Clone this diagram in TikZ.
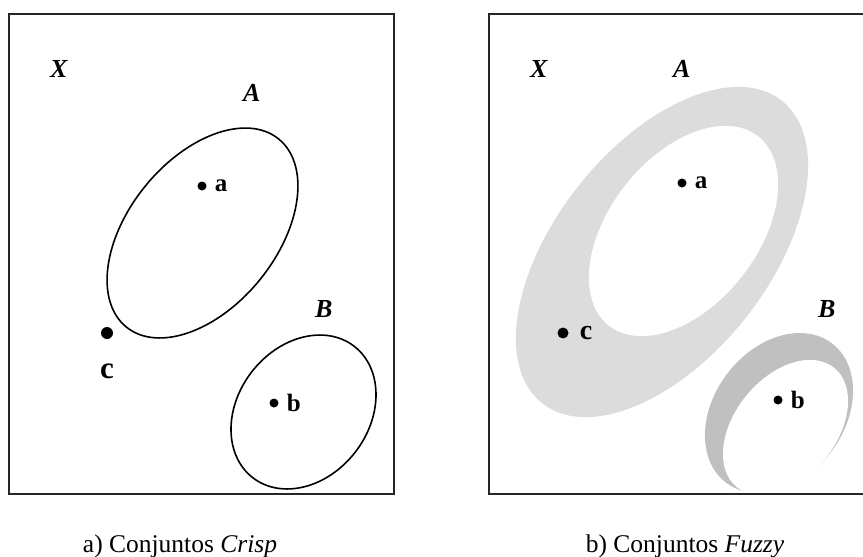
\documentclass[tikz,border=0pt]{standalone}
\usepackage{fontspec}
\setmainfont{Liberation Serif}
\usetikzlibrary{shapes.geometric,positioning}
\definecolor{fuzzylight}{RGB}{220,220,220}
\definecolor{fuzzydark}{RGB}{192,192,192}

\begin{document}
\begin{tikzpicture}[x=1pt,y=-1pt,
    setline/.style={ellipse, draw, line width=1.6pt, inner sep=0pt},
    setfill/.style={ellipse, inner sep=0pt},
    elem/.style={circle, fill, inner sep=0pt, minimum size=9pt},
    bigelem/.style={elem, minimum size=12pt},
    elemlbl/.style={font=\fontsize{25}{29}\selectfont\bfseries, inner sep=0pt},
    biglbl/.style={font=\fontsize{31}{35}\selectfont\bfseries, inner sep=0pt},
    setlbl/.style={font=\fontsize{26}{30}\selectfont\bfseries\itshape, inner sep=0pt, anchor=base west},
    caption/.style={font=\fontsize{25.5}{30}\selectfont, anchor=base}]
\clip (0,0) rectangle (863,557);

% a) crisp sets
\draw[line width=1.3pt, black!85] (9,14) rectangle (394,494);
\node[setline, rotate=51, minimum width=242pt, minimum height=148pt] (crispA) at (202.5,233) {};
\node[setline, rotate=52.4, minimum width=166pt, minimum height=131pt] (crispB) at (303.5,412) {};
\node[setlbl] (univL) at (50,77) {X};
\node[setlbl] (nameAL) at (243,101) {A};
\node[setlbl] (nameBL) at (315,317) {B};
\node[elem] (aL) at (202,186) {};
\node[elemlbl, right=8pt of aL] (aLtxt) {a};
\node[elem] (bL) at (274,403) {};
\node[elemlbl, right=8pt of bL] (bLtxt) {b};
\node[bigelem] (cL) at (107,333) {};
\node[biglbl, below=24pt of cL] (cLtxt) {c};

% b) fuzzy sets
\node[setfill, fill=fuzzylight, rotate=51.6, minimum width=386pt, minimum height=213pt] (fuzzyA) at (662,252) {};
\node[setfill, fill=white, rotate=51.7, minimum width=241pt, minimum height=148pt] (coreA) at (683.5,231) {};
\node[setfill, fill=fuzzydark, rotate=52.7, minimum width=175pt, minimum height=130pt] (fuzzyB) at (779,413) {};
\node[setfill, fill=white, rotate=50.6, minimum width=154pt, minimum height=101pt] (coreB) at (785.5,427.5) {};
\draw[line width=1.3pt, black!85] (489,14) rectangle (880,494);
\node[setlbl] (univR) at (530,77) {X};
\node[setlbl] (nameAR) at (673,77) {A};
\node[setlbl] (nameBR) at (818,317) {B};
\node[elem] (aR) at (682,183) {};
\node[elemlbl, right=8pt of aR] (aRtxt) {a};
\node[elem] (bR) at (778,400) {};
\node[elemlbl, right=8pt of bR] (bRtxt) {b};
\node[bigelem, minimum size=11pt] (cR) at (563,333) {};
\node[biglbl, font=\fontsize{28}{32}\selectfont\bfseries, right=11pt of cR] (cRtxt) {c};

% captions
\node[caption] (capA) at (180,552) {a) Conjuntos \textit{Crisp}};
\node[caption] (capB) at (685,552) {b) Conjuntos \textit{Fuzzy}};
\end{tikzpicture}
\end{document}
